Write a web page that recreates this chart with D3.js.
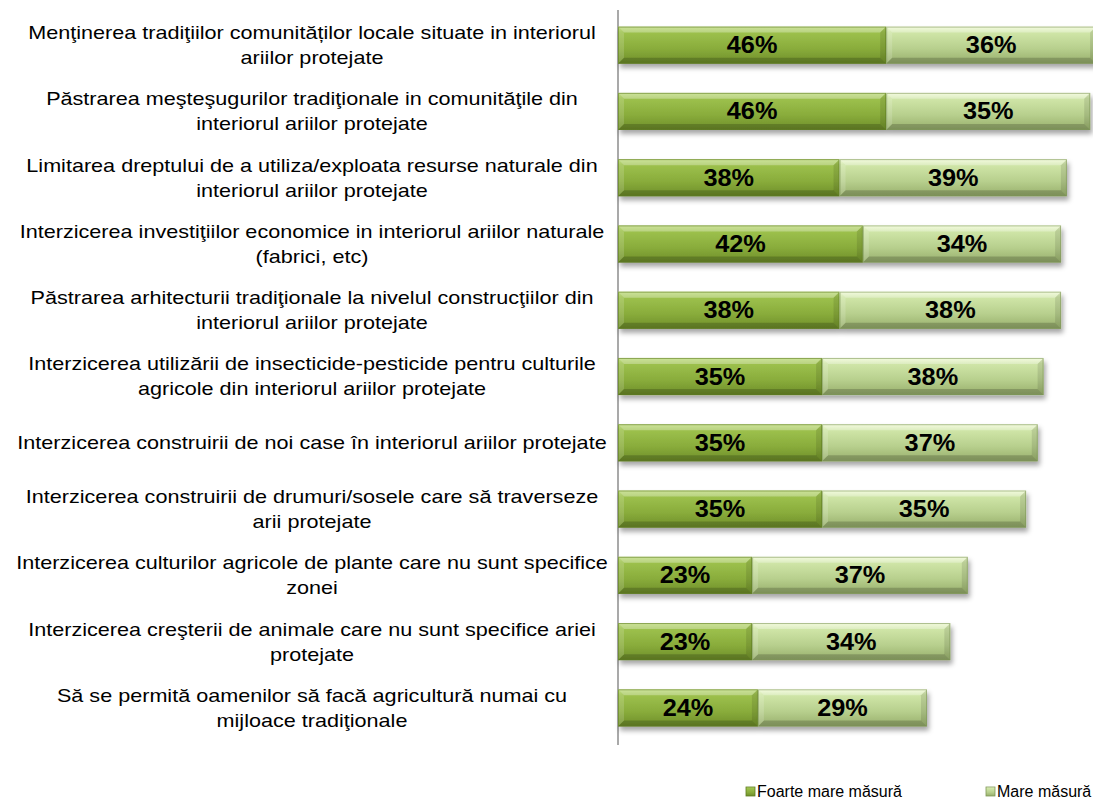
<!DOCTYPE html>
<html>
<head>
<meta charset="utf-8">
<script src="https://cdn.jsdelivr.net/npm/d3@7"></script>
<style>
  body { margin: 0; background: #fff; }
  svg { display: block; font-family: "Liberation Sans", Arial, sans-serif; }
</style>
</head>
<body>
<div id="chart"></div>
<script>
// Categories (each label split into its wrapped lines)
const categories = [
    ["Menţinerea tradiţiilor comunităților locale situate in interiorul", "ariilor protejate"],
    ["Păstrarea meşteşugurilor tradiţionale in comunităţile din", "interiorul ariilor protejate"],
    ["Limitarea dreptului de a utiliza/exploata resurse naturale din", "interiorul ariilor protejate"],
    ["Interzicerea investiţiilor economice in interiorul ariilor naturale", "(fabrici, etc)"],
    ["Păstrarea arhitecturii tradiţionale la nivelul construcţiilor din", "interiorul ariilor protejate"],
    ["Interzicerea utilizării de insecticide-pesticide pentru culturile", "agricole din interiorul ariilor protejate"],
    ["Interzicerea construirii de noi case în interiorul ariilor protejate"],
    ["Interzicerea construirii de drumuri/sosele care să traverseze", "arii protejate"],
    ["Interzicerea culturilor agricole de plante care nu sunt specifice", "zonei"],
    ["Interzicerea creşterii de animale care nu sunt specifice ariei", "protejate"],
    ["Să se permită oamenilor să facă agricultură numai cu", "mijloace tradiţionale"]
];

// Series values (%)
const foarteMare = [46, 46, 38, 42, 38, 35, 35, 35, 23, 23, 24];
const mare = [36, 35, 39, 34, 38, 38, 37, 35, 37, 34, 29];

const seriesNames = ["Foarte mare măsură", "Mare măsură"];

const width = 1093, height = 810;
const axisX = 618;

const svg = d3.select("#chart")
    .append("svg")
    .attr("width", width)
    .attr("height", height);

const defs = svg.append("defs");

// gradients for the two series
const palettes = [
    { id: "gDark", stops: [["0%", "#b6d76c"], ["15%", "#9dc14d"], ["60%", "#89ac3b"], ["100%", "#6e8e2a"]] },
    { id: "gLight", stops: [["0%", "#eef9d0"], ["15%", "#d0e6a8"], ["60%", "#b7cf8d"], ["100%", "#97ae6b"]] }
];
palettes.forEach(p => {
    const g = defs.append("linearGradient")
        .attr("id", p.id)
        .attr("x1", 0).attr("y1", 0).attr("x2", 0).attr("y2", 1);
    p.stops.forEach(s => g.append("stop").attr("offset", s[0]).attr("stop-color", s[1]));
});

const shadow = defs.append("filter")
    .attr("id", "shadow")
    .attr("x", "-5%").attr("y", "-30%")
    .attr("width", "115%").attr("height", "180%");
shadow.append("feDropShadow")
    .attr("dx", 2).attr("dy", 4)
    .attr("stdDeviation", 2.5)
    .attr("flood-color", "#000")
    .attr("flood-opacity", 0.35);

// scales
const x = d3.scaleLinear()
    .domain([0, 100])
    .range([axisX, axisX + 583]);

const y = d3.scaleBand()
    .domain(d3.range(categories.length))
    .range([12, 741])
    .paddingInner(0.44)
    .paddingOuter(0.22);

const fills = ["url(#gDark)", "url(#gLight)"];
const edgeDark = ["#5f7d22", "#7f9858"];

// category labels
const labelCx = 312;
categories.forEach((lines, i) => {
    const cy = y(i) + y.bandwidth() / 2;
    const t = svg.append("text")
        .attr("transform", `translate(${labelCx},0) scale(1.2,1)`)
        .attr("text-anchor", "middle")
        .attr("font-size", 18)
        .attr("fill", "#000");
    lines.forEach((line, k) => {
        t.append("tspan")
            .attr("x", 0)
            .attr("y", cy + 6.5 + (k - (lines.length - 1) / 2) * 25)
            .text(line);
    });
});

// axis line
svg.append("line")
    .attr("x1", axisX).attr("x2", axisX)
    .attr("y1", 10).attr("y2", 745)
    .attr("stroke", "#8c8c8c")
    .attr("stroke-width", 1.5);

// draw one bevelled segment
function drawSegment(g, x0, x1, top, h, s) {
    const b = 6;
    g.append("rect")
        .attr("x", x0).attr("y", top)
        .attr("width", x1 - x0).attr("height", h)
        .attr("fill", fills[s]);
    // top bevel (highlight)
    g.append("polygon")
        .attr("points", [[x0, top], [x1, top], [x1 - b, top + b], [x0 + b, top + b]].join(" "))
        .attr("fill", "#fff").attr("opacity", 0.3);
    // left bevel
    g.append("polygon")
        .attr("points", [[x0, top], [x0 + b, top + b], [x0 + b, top + h - b], [x0, top + h]].join(" "))
        .attr("fill", "#fff").attr("opacity", 0.15);
    // right bevel
    g.append("polygon")
        .attr("points", [[x1, top], [x1 - b, top + b], [x1 - b, top + h - b], [x1, top + h]].join(" "))
        .attr("fill", "#000").attr("opacity", 0.1);
    // bottom bevel
    g.append("polygon")
        .attr("points", [[x0, top + h], [x1, top + h], [x1 - b, top + h - b], [x0 + b, top + h - b]].join(" "))
        .attr("fill", "#000").attr("opacity", 0.18);
    g.append("rect")
        .attr("x", x0 + 0.5).attr("y", top + 0.5)
        .attr("width", x1 - x0 - 1).attr("height", h - 1)
        .attr("fill", "none")
        .attr("stroke", edgeDark[s])
        .attr("stroke-opacity", 0.6);
}

const bars = svg.append("g");

categories.forEach((c, i) => {
    const top = y(i);
    const h = y.bandwidth();
    const vals = [foarteMare[i], mare[i]];
    const g = bars.append("g").attr("filter", "url(#shadow)");
    let start = 0;
    vals.forEach((v, s) => {
        drawSegment(g, x(start), x(start + v), top, h, s);
        start += v;
    });
    start = 0;
    vals.forEach(v => {
        const cx = (x(start) + x(start + v)) / 2;
        svg.append("text")
            .attr("transform", `translate(${cx},${top + h / 2 + 8}) scale(1.1,1)`)
            .attr("text-anchor", "middle")
            .attr("font-size", 23)
            .attr("font-weight", "bold")
            .attr("fill", "#000")
            .text(v + "%");
        start += v;
    });
});

// legend
const legendX = [746, 986];
seriesNames.forEach((name, s) => {
    const lg = svg.append("g").attr("transform", `translate(${legendX[s]},787)`);
    lg.append("rect")
        .attr("width", 9).attr("height", 9)
        .attr("fill", fills[s])
        .attr("stroke", edgeDark[s])
        .attr("stroke-width", 0.8);
    lg.append("text")
        .attr("x", 11)
        .attr("y", 10)
        .attr("font-size", 16)
        .attr("fill", "#000")
        .text(name);
});
</script>
</body>
</html>
